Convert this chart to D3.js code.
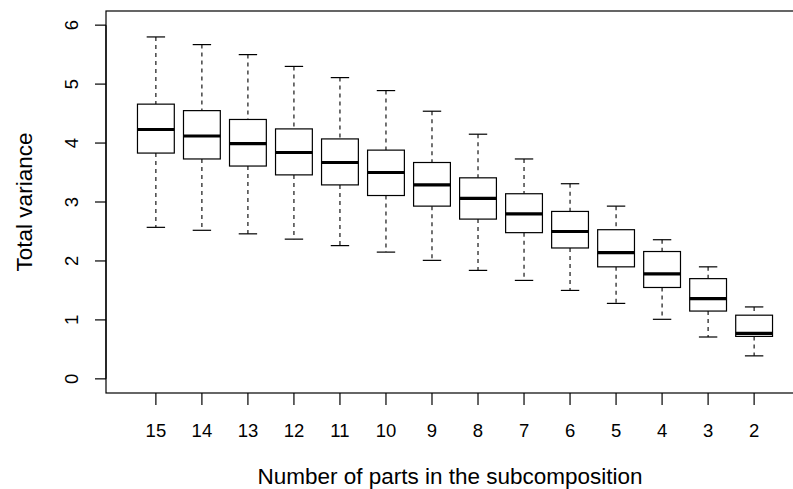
<!DOCTYPE html>
<html>
<head>
<meta charset="utf-8">
<script src="https://cdn.jsdelivr.net/npm/d3@7"></script>
<style>
  body { margin: 0; background: #fff; }
  svg { display: block; font-family: "Liberation Sans", Arial, sans-serif; }
</style>
</head>
<body>
<svg id="chart" width="793" height="489"></svg>
<script>
// number of parts in each subcomposition (one box per group)
const parts = [15, 14, 13, 12, 11, 10, 9, 8, 7, 6, 5, 4, 3, 2];
// box statistics
const lowerWhisker = [2.57, 2.52, 2.46, 2.37, 2.26, 2.15, 2.01, 1.84, 1.67, 1.50, 1.28, 1.01, 0.71, 0.39];
const lowerHinge   = [3.83, 3.73, 3.61, 3.46, 3.29, 3.11, 2.93, 2.71, 2.48, 2.22, 1.90, 1.55, 1.15, 0.72];
const medians      = [4.23, 4.12, 3.99, 3.84, 3.67, 3.50, 3.29, 3.06, 2.80, 2.50, 2.14, 1.78, 1.36, 0.77];
const upperHinge   = [4.66, 4.55, 4.40, 4.24, 4.07, 3.88, 3.67, 3.41, 3.14, 2.84, 2.53, 2.16, 1.70, 1.08];
const upperWhisker = [5.80, 5.67, 5.50, 5.30, 5.11, 4.89, 4.54, 4.15, 3.73, 3.31, 2.93, 2.36, 1.90, 1.22];
const yTicks = [0, 1, 2, 3, 4, 5, 6];

let svg = d3.select("#chart");

let plotL = 106, plotR = 804, plotT = 11, plotB = 393;

// group positions are 1..n, like R's boxplot
let x = d3.scaleLinear()
          .domain([-0.084, parts.length + 1.084])
          .range([plotL, plotR]);
let y = d3.scaleLinear()
          .domain([-0.24, 6.24])
          .range([plotB, plotT]);

let boxW = x(0.8) - x(0);
let capW = x(0.4) - x(0);

let boxes = parts.map(function(p, i) {
    return {
        label: p, pos: i + 1,
        lo: lowerWhisker[i], q1: lowerHinge[i], med: medians[i],
        q3: upperHinge[i], hi: upperWhisker[i]
    };
});

let g = svg.append("g").selectAll("g")
           .data(boxes)
           .enter()
           .append("g")
           .attr("transform", function(d) { return "translate(" + x(d.pos) + ",0)"; });

// dashed whiskers
g.append("line")
 .attr("x1", 0).attr("x2", 0)
 .attr("y1", function(d) { return y(d.hi); })
 .attr("y2", function(d) { return y(d.q3); })
 .attr("stroke", "#000").attr("stroke-width", 1.1)
 .attr("stroke-dasharray", "4,4");
g.append("line")
 .attr("x1", 0).attr("x2", 0)
 .attr("y1", function(d) { return y(d.q1); })
 .attr("y2", function(d) { return y(d.lo); })
 .attr("stroke", "#000").attr("stroke-width", 1.1)
 .attr("stroke-dasharray", "4,4");

// staples
g.selectAll("line.cap")
 .data(function(d) { return [d.lo, d.hi]; })
 .enter()
 .append("line")
 .attr("class", "cap")
 .attr("x1", -capW / 2).attr("x2", capW / 2)
 .attr("y1", function(v) { return y(v); })
 .attr("y2", function(v) { return y(v); })
 .attr("stroke", "#000").attr("stroke-width", 1.2);

// boxes
g.append("rect")
 .attr("x", -boxW / 2)
 .attr("width", boxW)
 .attr("y", function(d) { return y(d.q3); })
 .attr("height", function(d) { return y(d.q1) - y(d.q3); })
 .attr("fill", "#fff")
 .attr("stroke", "#000").attr("stroke-width", 1.2);

// medians
g.append("line")
 .attr("x1", -boxW / 2).attr("x2", boxW / 2)
 .attr("y1", function(d) { return y(d.med); })
 .attr("y2", function(d) { return y(d.med); })
 .attr("stroke", "#000").attr("stroke-width", 3.2);

// frame
svg.append("rect")
   .attr("x", plotL).attr("y", plotT)
   .attr("width", plotR - plotL).attr("height", plotB - plotT)
   .attr("fill", "none").attr("stroke", "#000").attr("stroke-width", 1.2);

// y axis (R style: rotated labels)
let yAxis = svg.append("g");
yAxis.append("line")
     .attr("x1", plotL).attr("x2", plotL)
     .attr("y1", y(0)).attr("y2", y(6))
     .attr("stroke", "#000").attr("stroke-width", 1.2);
yAxis.selectAll("line.tick")
     .data(yTicks)
     .enter()
     .append("line")
     .attr("class", "tick")
     .attr("x1", plotL - 11).attr("x2", plotL)
     .attr("y1", function(d) { return y(d); })
     .attr("y2", function(d) { return y(d); })
     .attr("stroke", "#000").attr("stroke-width", 1.2);
yAxis.selectAll("text")
     .data(yTicks)
     .enter()
     .append("text")
     .attr("transform", function(d) { return "translate(78," + y(d) + ") rotate(-90)"; })
     .attr("text-anchor", "middle")
     .attr("font-size", 18.5)
     .attr("fill", "#000")
     .text(function(d) { return d; });

// x axis
let xAxis = svg.append("g");
xAxis.selectAll("line.tick")
     .data(boxes)
     .enter()
     .append("line")
     .attr("class", "tick")
     .attr("x1", function(d) { return x(d.pos); })
     .attr("x2", function(d) { return x(d.pos); })
     .attr("y1", plotB).attr("y2", plotB + 12)
     .attr("stroke", "#000").attr("stroke-width", 1.2);
xAxis.selectAll("text")
     .data(boxes)
     .enter()
     .append("text")
     .attr("x", function(d) { return x(d.pos); })
     .attr("y", 437)
     .attr("text-anchor", "middle")
     .attr("font-size", 18.5)
     .attr("fill", "#000")
     .text(function(d) { return d.label; });

// axis titles
svg.append("text")
   .attr("x", (plotL + plotR) / 2 - 5)
   .attr("y", 484)
   .attr("text-anchor", "middle")
   .attr("font-size", 22.5)
   .attr("fill", "#000")
   .text("Number of parts in the subcomposition");
svg.append("text")
   .attr("transform", "translate(32," + ((plotT + plotB) / 2) + ") rotate(-90)")
   .attr("text-anchor", "middle")
   .attr("font-size", 22.5)
   .attr("fill", "#000")
   .text("Total variance");
</script>
</body>
</html>
